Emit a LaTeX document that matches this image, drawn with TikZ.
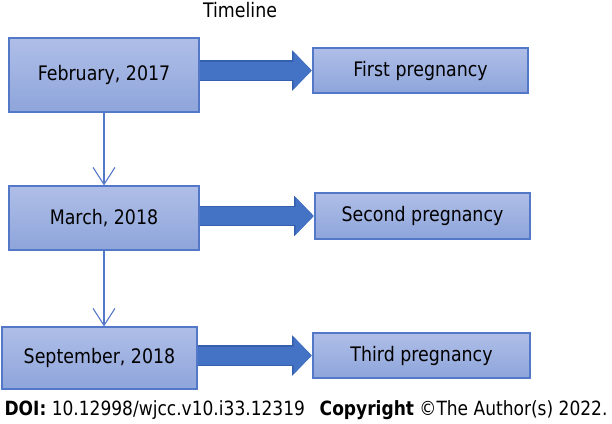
\documentclass[tikz,border=0pt]{standalone}
\usepackage{fontspec}
\setmainfont{DejaVu Sans}[FakeStretch=0.87]
\usepackage{xcolor}
\usetikzlibrary{arrows.meta}
\definecolor{box_top}{HTML}{AFBEE7}
\definecolor{box_bottom}{HTML}{8EA5DB}
\definecolor{box_line}{HTML}{5478C8}
\definecolor{arrow_blue}{HTML}{4472C4}
\definecolor{arrow_dark}{HTML}{3560AE}

\begin{document}
\begin{tikzpicture}[x=1bp, y=-1bp, every node/.style={font=\fontsize{20bp}{24bp}\selectfont, text=black}]
            \useasboundingbox (0,0) rectangle (612,423);
            % Styles
            \tikzstyle{date} = [rectangle, draw=box_line, line width=1.2bp, top color=box_top, bottom color=box_bottom, minimum width=190bp, minimum height=64bp]
            \tikzstyle{event} = [rectangle, draw=box_line, line width=1.2bp, top color=box_top, bottom color=box_bottom, minimum width=215bp, minimum height=45bp]
            \tikzstyle{flow} = [draw=box_line, line width=1.1bp, -{Straight Barb[length=17bp, width=22bp]}]
            \tikzstyle{bigarrow} = [preaction={draw=arrow_dark, line width=20.5bp, -{Triangle[length=19.5bp, width=40.5bp, line width=0pt]}}, draw=arrow_blue, line width=18bp, -{Triangle[length=18bp, width=37bp, line width=0pt]}, shorten >=0.7bp]

            % Title
            \node (title) at (240,10) {Timeline};

            % Nodes: Dates
            \node[date, minimum height=74bp] (D1) at (104,75) {February, 2017};
            \node[date] (D2) at (104,218) {March, 2018};
            \node[date, minimum width=195bp, minimum height=62bp] (D3) at (99.5,358) {September, 2018};

            % Nodes: Events
            \node[event] (E1) at (420.5,70.5) {First pregnancy};
            \node[event, minimum height=46bp] (E2) at (422.5,216) {Second pregnancy};
            \node[event, minimum width=217bp] (E3) at (421.5,355.5) {Third pregnancy};

            % Timeline edges: Di -> Di+1
            \draw[flow] (D1.south) -- (D1.south |- D2.north);
            \draw[flow] (D2.south) -- (D2.south |- D3.north);

            % Event edges: Di -> Ei
            \draw[bigarrow] (D1.east |- E1) -- (E1.west);
            \draw[bigarrow] (D2.east |- E2) -- (E2.west);
            \draw[bigarrow] (D3.east |- E3) -- (E3.west);

            % Source line
            \node[font=\fontsize{19.6bp}{24bp}\selectfont] (doi) at (306,410) {\textbf{DOI:} 10.12998/wjcc.v10.i33.12319\hspace{0.75em}\textbf{Copyright} ©The Author(s) 2022.};
        \end{tikzpicture}
\end{document}
